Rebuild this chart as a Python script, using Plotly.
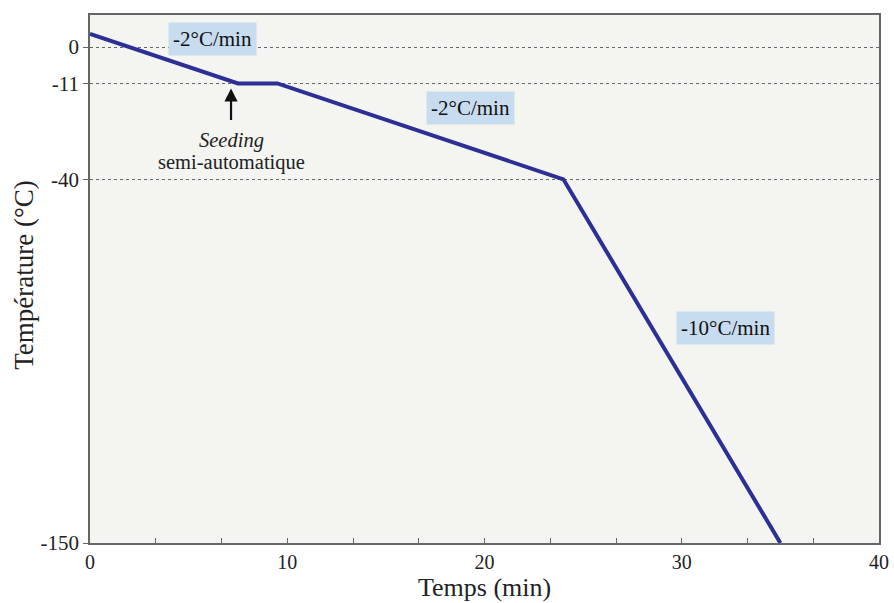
import plotly.graph_objects as go

# Data
time_min = [0, 7.5, 9.5, 24, 35]
temp_c = [4, -11, -11, -40, -150]
y_ticks = [0, -11, -40, -150]
y_tick_text = ["0", "-11", "-40", "-150"]
x_ticks = [0, 10, 20, 30, 40]
rate_labels = ["-2°C/min", "-2°C/min", "-10°C/min"]
rate_x = [6.2, 19.3, 32.2]
rate_y = [2.4, -18.4, -85]
seed_x = 7.15
seed_y = -11

FONT = "Liberation Serif"

fig = go.Figure()
fig.add_trace(go.Scatter(x=time_min, y=temp_c, mode="lines",
                         line=dict(color="#2c2f96", width=4),
                         hoverinfo="skip", showlegend=False))

for t, x, y in zip(rate_labels, rate_x, rate_y):
    fig.add_annotation(x=x, y=y, text=t, showarrow=False,
                       font=dict(family=FONT, size=21, color="#111"),
                       bgcolor="#c8dcf0", borderpad=4)

fig.add_annotation(x=seed_x, y=seed_y - 1.5, ax=seed_x, ay=seed_y - 11.5,
                   axref="x", ayref="y", text="", showarrow=True,
                   arrowhead=2, arrowsize=1.2, arrowwidth=2.2, arrowcolor="#111")
fig.add_annotation(x=seed_x, y=-28.2, text="<i>Seeding</i>", showarrow=False,
                   font=dict(family=FONT, size=20.5, color="#222"))
fig.add_annotation(x=seed_x, y=-35, text="semi-automatique", showarrow=False,
                   font=dict(family=FONT, size=20.5, color="#222"))

# axis titles
fig.add_annotation(xref="paper", yref="paper", x=0.5, y=-0.085, yanchor="middle",
                   text="Temps (min)", showarrow=False,
                   font=dict(family=FONT, size=26, color="#222"))
fig.add_annotation(xref="paper", yref="paper", x=-0.083, y=0.507, xanchor="center",
                   yanchor="middle", textangle=-90,
                   text="Température (°C)", showarrow=False,
                   font=dict(family=FONT, size=27, color="#222"))

fig.update_layout(
    width=894, height=603,
    margin=dict(l=90, r=15, t=15, b=60),
    paper_bgcolor="white", plot_bgcolor="#f4f4f1",
    font=dict(family=FONT, color="#222"),
    xaxis=dict(range=[0, 40], tickvals=x_ticks, ticks="inside", ticklen=5,
               tickcolor="#666", showgrid=False, zeroline=False, automargin=False,
               ticklabeloverflow="allow",
               showline=True, mirror=True, linecolor="#666", linewidth=1.5,
               tickfont=dict(size=20),
               minor=dict(ticks="inside", dtick=10/3, tick0=0, ticklen=5, tickcolor="#666", showgrid=False)),
    yaxis=dict(range=[-150, 9.7], tickvals=y_ticks, ticktext=y_tick_text,
               ticks="outside", ticklen=5, automargin=False,
               ticklabeloverflow="allow",
               tickcolor="#666", showgrid=True, gridcolor="#666", griddash="dot",
               gridwidth=1, zeroline=False,
               showline=True, mirror=True, linecolor="#666", linewidth=1.5,
               tickfont=dict(size=21)),
)

fig.write_html("out.html", config={"displayModeBar": False},
               post_script="document.body.style.margin='0';document.body.style.overflow='hidden';")
